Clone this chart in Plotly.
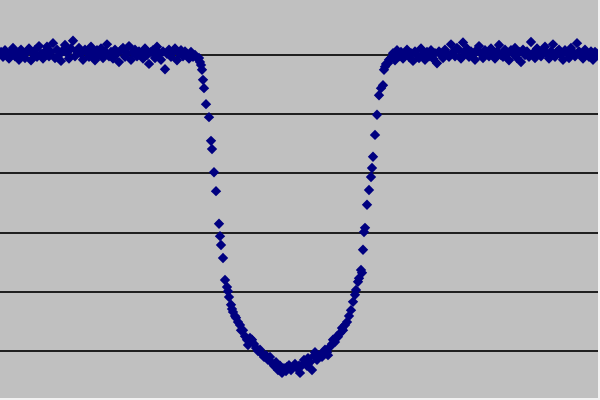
import plotly.graph_objects as go

# Relative flux (%) light curve, time in arbitrary units
time_left = list(range(1, 198, 2))
flux_left = [
    100.05, 99.97, 100.08, 100.01, 99.94, 100.06, 100.12, 99.98, 100.03, 99.92,
    100.09, 100.00, 99.95, 100.05, 100.11, 99.91, 100.03, 100.08, 99.97, 100.15,
    100.02, 99.94, 100.06, 100.14, 99.98, 100.05, 100.20, 99.95, 100.09, 100.00,
    99.90, 100.08, 100.17, 100.03, 99.94, 100.11, 100.24, 99.98, 100.06, 100.12,
    100.02, 99.92, 100.09, 100.05, 99.97, 100.14, 100.03, 99.91, 100.08, 100.00,
    100.11, 99.95, 100.06, 100.18, 99.98, 100.05, 99.94, 100.09, 100.02, 99.88,
    100.08, 100.12, 99.97, 100.03, 100.15, 99.92, 100.05, 100.09, 99.98, 100.06,
    100.02, 99.94, 100.11, 100.00, 99.85, 100.05, 100.08, 99.95, 100.14, 100.03,
    99.92, 100.06, 99.76, 100.02, 100.09, 99.97, 100.05, 100.11, 99.91, 100.03,
    100.08, 99.98, 100.06, 100.02, 99.94, 100.05, 99.97, 100.00, 99.95,
]

time_transit = [
    199, 200, 201, 202, 203, 204, 206, 209, 211, 212, 214, 216, 219, 220, 221, 223,
    225, 227, 228, 229, 231, 232, 233, 235, 236, 238, 240, 241, 243, 245, 247, 248,
    250, 252, 254, 256, 258, 260, 262, 264, 266, 268, 270, 272, 274, 276, 278, 280,
    282, 284, 286, 287, 289, 291, 293, 295, 297, 299, 300, 302, 304, 305, 307, 308,
    310, 312, 314, 315, 317, 318, 320, 322, 323, 325, 327, 328, 330, 332, 333, 335,
    337, 338, 340, 342, 343, 345, 347, 349, 351, 353, 355, 356, 358, 359, 361, 362,
    363, 364, 365, 367, 369, 371, 372, 373, 375, 377, 379, 381, 383, 384, 385, 386,
    388, 389,
]
flux_transit = [
    99.95, 99.88, 99.83, 99.75, 99.58, 99.44, 99.17, 98.95, 98.55, 98.41, 98.02, 97.70,
    97.15, 96.94, 96.79, 96.57, 96.20, 96.08, 96.01, 95.91, 95.78, 95.71, 95.66, 95.59,
    95.56, 95.49, 95.44, 95.35, 95.35, 95.25, 95.19, 95.10, 95.22, 95.19, 95.12, 95.05,
    95.00, 95.02, 94.95, 94.90, 94.93, 94.85, 94.90, 94.80, 94.75, 94.81, 94.68, 94.75,
    94.63, 94.71, 94.66, 94.73, 94.76, 94.68, 94.73, 94.78, 94.71, 94.75, 94.63, 94.76,
    94.85, 94.80, 94.75, 94.88, 94.81, 94.68, 94.92, 94.98, 94.85, 94.88, 94.93, 94.90,
    94.97, 95.02, 94.98, 94.93, 95.07, 95.12, 95.19, 95.15, 95.25, 95.24, 95.30, 95.39,
    95.35, 95.44, 95.49, 95.59, 95.69, 95.83, 95.95, 96.03, 96.17, 96.23, 96.37, 96.32,
    96.71, 97.01, 97.08, 97.47, 97.72, 97.94, 98.09, 98.28, 98.65, 98.99, 99.32, 99.44,
    99.49, 99.75, 99.80, 99.85, 99.86, 99.92,
]

time_right = list(range(391, 600, 2))
flux_right = [
    99.95, 100.03, 99.91, 100.08, 99.98, 100.05, 99.94, 100.02, 100.09, 99.97,
    100.03, 99.90, 100.06, 100.00, 99.95, 100.11, 100.02, 99.92, 100.05, 99.98,
    100.08, 99.94, 100.03, 99.86, 100.06, 100.00, 99.95, 100.09, 100.03, 99.97,
    100.18, 100.05, 99.98, 100.12, 100.08, 99.94, 100.21, 100.03, 100.11, 99.97,
    100.06, 100.00, 99.92, 100.09, 100.15, 100.02, 99.95, 100.08, 100.03, 99.98,
    100.11, 100.05, 99.94, 100.06, 100.17, 100.00, 99.97, 100.09, 100.03, 99.91,
    100.08, 100.02, 100.12, 99.95, 100.05, 99.88, 100.09, 100.00, 100.06, 99.97,
    100.22, 100.03, 99.95, 100.11, 100.05, 99.98, 100.08, 100.14, 100.02, 99.94,
    100.06, 100.18, 99.97, 100.05, 100.09, 100.00, 99.92, 100.08, 100.03, 99.95,
    100.12, 100.05, 99.98, 100.20, 100.06, 100.00, 99.94, 100.09, 100.03, 99.97,
    100.06, 99.92, 100.05, 100.02, 99.98,
]

time_all = time_left + time_transit + time_right
flux_all = flux_left + flux_transit + flux_right

fig = go.Figure()
fig.add_trace(go.Scatter(
    x=time_all, y=flux_all, mode="markers",
    marker=dict(symbol="diamond", size=8, color="#000080", line=dict(width=0)),
    showlegend=False, hoverinfo="skip",
))

fig.update_layout(
    width=600, height=400,
    margin=dict(l=0, r=2, t=0, b=2),
    paper_bgcolor="#f2f2f2",
    plot_bgcolor="#c0c0c0",
    xaxis=dict(range=[0, 598], showgrid=False, zeroline=False,
               showticklabels=False, ticks="", showline=False),
    yaxis=dict(range=[94.206, 100.929], tick0=95, dtick=1,
               showgrid=True, gridcolor="#202020", gridwidth=2,
               zeroline=False, showticklabels=False, ticks="", showline=False),
)

fig.write_html("out.html", config={"displayModeBar": False},
               post_script="document.body.style.margin='0px';")
